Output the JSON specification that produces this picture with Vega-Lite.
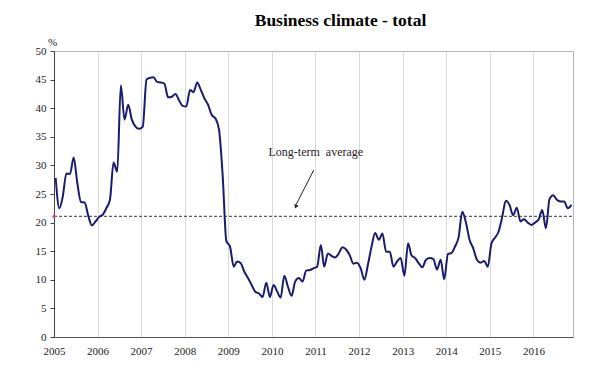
{
  "$schema": "https://vega.github.io/schema/vega-lite/v6.json",
  "width": 519,
  "height": 286,
  "autosize": {"type": "none"},
  "padding": {"left": 54, "top": 51, "right": 27, "bottom": 33},
  "background": "white",
  "title": {"text": "Business climate - total", "font": "Liberation Serif", "fontSize": 17.5, "fontWeight": "bold", "color": "#000000", "anchor": "middle", "frame": "group", "dx": 27, "offset": 7},
  "config": {
    "view": {"stroke": "#b5b5b5", "strokeWidth": 1},
    "axis": {"labelFont": "Liberation Serif", "labelFontSize": 11, "labelColor": "#222222", "titleFont": "Liberation Serif"}
  },
  "encoding": {
    "x": {"field": "date", "type": "temporal",
      "scale": {"type": "utc", "domain": [{"year": 2005, "month": 1, "date": 1, "utc": true}, {"year": 2016, "month": 11, "date": 28, "utc": true}]},
      "axis": {"title": null, "format": "%Y", "values": [
        {"year": 2005, "utc": true}, {"year": 2006, "utc": true}, {"year": 2007, "utc": true}, {"year": 2008, "utc": true},
        {"year": 2009, "utc": true}, {"year": 2010, "utc": true}, {"year": 2011, "utc": true}, {"year": 2012, "utc": true},
        {"year": 2013, "utc": true}, {"year": 2014, "utc": true}, {"year": 2015, "utc": true}, {"year": 2016, "utc": true}],
        "grid": true, "gridColor": "#d9d9d9", "gridWidth": 1, "ticks": false, "labelPadding": 8, "domainColor": "#555555", "labelFlush": false}},
    "y": {"field": "value", "type": "quantitative",
      "scale": {"domain": [0, 50], "nice": false, "zero": true},
      "axis": {"values": [0, 5, 10, 15, 20, 25, 30, 35, 40, 45, 50], "grid": false, "tickSize": 4, "tickColor": "#444444", "domainColor": "#444444", "labelPadding": 4,
        "title": "%", "titleAngle": 0, "titleX": -2, "titleY": -9, "titleAlign": "center", "titleBaseline": "middle", "titleFontSize": 11, "titleFontWeight": "normal", "titleColor": "#222222"}}
  },
  "layer": [
    {
      "data": {"values": [{"date": "2005-01-01", "date2": "2016-11-28", "value": 21.1}]},
      "mark": {"type": "rule", "color": "#333333", "strokeWidth": 1, "strokeDash": [3, 2]},
      "encoding": {"x2": {"field": "date2"}}
    },
    {
      "data": {"values": [
        {"date":"2005-01-15","value":27.8},{"date":"2005-02-15","value":22.5},{"date":"2005-03-15","value":24.5},{"date":"2005-04-15","value":28.6},{"date":"2005-05-15","value":28.5},{"date":"2005-06-15","value":31.4},{"date":"2005-07-15","value":27.0},{"date":"2005-08-15","value":23.6},{"date":"2005-09-15","value":23.5},{"date":"2005-10-15","value":21.2},{"date":"2005-11-15","value":19.5},{"date":"2005-12-15","value":20.2},
        {"date":"2006-01-15","value":21.0},{"date":"2006-02-15","value":21.4},{"date":"2006-03-15","value":22.5},{"date":"2006-04-15","value":24.0},{"date":"2006-05-15","value":30.5},{"date":"2006-06-15","value":28.9},{"date":"2006-07-15","value":44.0},{"date":"2006-08-15","value":38.0},{"date":"2006-09-15","value":40.6},{"date":"2006-10-15","value":38.0},{"date":"2006-11-15","value":36.8},{"date":"2006-12-15","value":36.4},
        {"date":"2007-01-15","value":36.8},{"date":"2007-02-15","value":45.0},{"date":"2007-03-15","value":45.3},{"date":"2007-04-15","value":45.4},{"date":"2007-05-15","value":44.6},{"date":"2007-06-15","value":44.5},{"date":"2007-07-15","value":44.3},{"date":"2007-08-15","value":41.9},{"date":"2007-09-15","value":42.0},{"date":"2007-10-15","value":42.5},{"date":"2007-11-15","value":41.4},{"date":"2007-12-15","value":40.4},
        {"date":"2008-01-15","value":40.3},{"date":"2008-02-15","value":43.2},{"date":"2008-03-15","value":42.8},{"date":"2008-04-15","value":44.5},{"date":"2008-05-15","value":43.2},{"date":"2008-06-15","value":41.7},{"date":"2008-07-15","value":40.6},{"date":"2008-08-15","value":38.8},{"date":"2008-09-15","value":38.2},{"date":"2008-10-15","value":36.2},{"date":"2008-11-15","value":28.0},{"date":"2008-12-15","value":16.8},
        {"date":"2009-01-15","value":15.8},{"date":"2009-02-15","value":12.3},{"date":"2009-03-15","value":13.2},{"date":"2009-04-15","value":12.9},{"date":"2009-05-15","value":11.4},{"date":"2009-06-15","value":10.3},{"date":"2009-07-15","value":9.1},{"date":"2009-08-15","value":7.9},{"date":"2009-09-15","value":7.6},{"date":"2009-10-15","value":7.0},{"date":"2009-11-15","value":9.5},{"date":"2009-12-15","value":7.0},
        {"date":"2010-01-15","value":9.1},{"date":"2010-02-15","value":7.9},{"date":"2010-03-15","value":6.9},{"date":"2010-04-15","value":10.7},{"date":"2010-05-15","value":8.8},{"date":"2010-06-15","value":7.2},{"date":"2010-07-15","value":9.7},{"date":"2010-08-15","value":10.3},{"date":"2010-09-15","value":9.7},{"date":"2010-10-15","value":11.6},{"date":"2010-11-15","value":11.7},{"date":"2010-12-15","value":12.0},
        {"date":"2011-01-15","value":12.3},{"date":"2011-02-15","value":16.1},{"date":"2011-03-15","value":12.3},{"date":"2011-04-15","value":14.6},{"date":"2011-05-15","value":14.2},{"date":"2011-06-15","value":13.9},{"date":"2011-07-15","value":14.6},{"date":"2011-08-15","value":15.7},{"date":"2011-09-15","value":15.3},{"date":"2011-10-15","value":14.3},{"date":"2011-11-15","value":12.8},{"date":"2011-12-15","value":13.0},
        {"date":"2012-01-15","value":12.0},{"date":"2012-02-15","value":10.0},{"date":"2012-03-15","value":12.6},{"date":"2012-04-15","value":15.8},{"date":"2012-05-15","value":18.2},{"date":"2012-06-15","value":17.0},{"date":"2012-07-15","value":18.1},{"date":"2012-08-15","value":14.9},{"date":"2012-09-15","value":14.9},{"date":"2012-10-15","value":12.3},{"date":"2012-11-15","value":13.2},{"date":"2012-12-15","value":13.8},
        {"date":"2013-01-15","value":10.7},{"date":"2013-02-15","value":16.4},{"date":"2013-03-15","value":14.3},{"date":"2013-04-15","value":13.8},{"date":"2013-05-15","value":12.9},{"date":"2013-06-15","value":12.2},{"date":"2013-07-15","value":13.5},{"date":"2013-08-15","value":13.8},{"date":"2013-09-15","value":13.6},{"date":"2013-10-15","value":11.8},{"date":"2013-11-15","value":13.5},{"date":"2013-12-15","value":10.1},
        {"date":"2014-01-15","value":14.5},{"date":"2014-02-15","value":14.7},{"date":"2014-03-15","value":15.8},{"date":"2014-04-15","value":17.5},{"date":"2014-05-15","value":21.9},{"date":"2014-06-15","value":20.0},{"date":"2014-07-15","value":17.0},{"date":"2014-08-15","value":15.5},{"date":"2014-09-15","value":13.5},{"date":"2014-10-15","value":13.0},{"date":"2014-11-15","value":13.3},{"date":"2014-12-15","value":12.3},
        {"date":"2015-01-15","value":16.4},{"date":"2015-02-15","value":17.4},{"date":"2015-03-15","value":18.4},{"date":"2015-04-15","value":21.0},{"date":"2015-05-15","value":23.8},{"date":"2015-06-15","value":23.1},{"date":"2015-07-15","value":21.3},{"date":"2015-08-15","value":22.6},{"date":"2015-09-15","value":20.2},{"date":"2015-10-15","value":20.6},{"date":"2015-11-15","value":20.0},{"date":"2015-12-15","value":19.6},
        {"date":"2016-01-15","value":20.0},{"date":"2016-02-15","value":20.6},{"date":"2016-03-15","value":22.2},{"date":"2016-04-15","value":19.0},{"date":"2016-05-15","value":24.1},{"date":"2016-06-15","value":24.8},{"date":"2016-07-15","value":24.0},{"date":"2016-08-15","value":23.7},{"date":"2016-09-15","value":23.7},{"date":"2016-10-15","value":22.5},{"date":"2016-11-15","value":23.1}
      ]},
      "mark": {"type": "line", "color": "#1b1b6e", "strokeWidth": 2, "interpolate": "monotone"}
    },
    {
      "data": {"values": [{"date": "2005-01-01", "value": 21.1}]},
      "mark": {"type": "point", "filled": true, "color": "#d0409a", "size": 10, "opacity": 1}
    },
    {
      "data": {"values": [{"date": "2010-12-18", "value": 29.2, "date2": "2010-07-24", "value2": 23.2}]},
      "mark": {"type": "rule", "color": "#222222", "strokeWidth": 1},
      "encoding": {"x2": {"field": "date2"}, "y2": {"field": "value2"}}
    },
    {
      "data": {"values": [{"date": "2010-07-20", "value": 22.8}]},
      "mark": {"type": "point", "shape": "triangle-down", "filled": true, "color": "#222222", "size": 22, "angle": 25, "opacity": 1}
    },
    {
      "data": {"values": [{"date": "2011-01-04", "value": 32.4, "label": "Long-term \u00a0average"}]},
      "mark": {"type": "text", "font": "Liberation Serif", "fontSize": 12, "color": "#222222", "align": "center", "baseline": "middle"},
      "encoding": {"text": {"field": "label"}}
    }
  ]
}
